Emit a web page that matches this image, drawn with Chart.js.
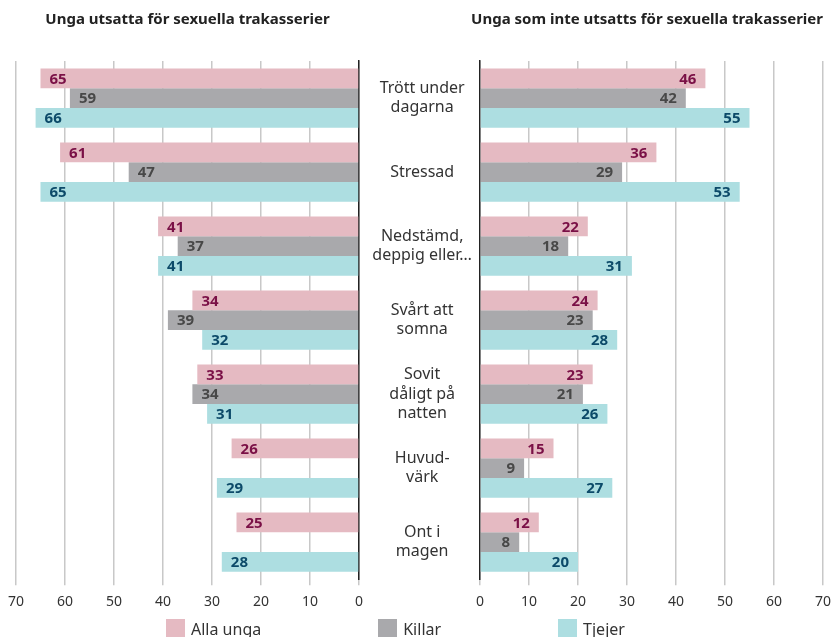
<!DOCTYPE html>
<html><head><meta charset="utf-8">
<script src="https://cdn.jsdelivr.net/npm/chart.js@4"></script>
<style>
body{margin:0;width:832px;height:637px;overflow:hidden;background:#fff;font-family:"Noto Sans";}
#lw{position:absolute;left:0;top:0;width:372px;height:620px}
#rw{position:absolute;left:360px;top:0;width:472px;height:620px}
#legend{position:absolute;left:166px;top:619px;display:flex;gap:117px;}
.item{display:flex;align-items:center;font-size:16px;color:#333;height:19px;font-family:"Noto Sans"}
.box{width:19px;height:19px;margin-right:6px}
</style>
</head><body>
<div id="lw"><canvas id="l"></canvas></div>
<div id="rw"><canvas id="r"></canvas></div>
<div id="legend"></div>
<script>
const categories = [["Trött under","dagarna"],["Stressad"],["Nedstämd,","deppig eller…"],["Svårt att","somna"],["Sovit","dåligt på","natten"],["Huvud-","värk"],["Ont i","magen"]];
const seriesNames = ["Alla unga","Killar","Tjejer"];
const leftAlla   = [65, 61, 41, 34, 33, 26, 25];
const leftKillar = [59, 47, 37, 39, 34, null, null];
const leftTjejer = [66, 65, 41, 32, 31, 29, 28];
const rightAlla   = [46, 36, 22, 24, 23, 15, 12];
const rightKillar = [42, 29, 18, 23, 21, 9, 8];
const rightTjejer = [55, 53, 31, 28, 26, 27, 20];
const xTicks = [0,10,20,30,40,50,60,70];
const leftTitle = "Unga utsatta för sexuella trakasserier";
const rightTitle = "Unga som inte utsatts för sexuella trakasserier";

const barColors = ["#e5bac2","#a9a9ac","#addee1"];
const labelColors = ["#7a1046","#484848","#0c4a69"];
const FONT = "Noto Sans";

const valueLabels = {
  id:'valueLabels',
  afterDatasetsDraw(chart, args, opts){
    const ctx = chart.ctx;
    ctx.save();
    ctx.font = "bold 15px '"+FONT+"'";
    ctx.textBaseline = 'middle';
    chart.data.datasets.forEach((ds,di)=>{
      const meta = chart.getDatasetMeta(di);
      meta.data.forEach((el,i)=>{
        const v = ds.data[i];
        if(v===null||v===undefined) return;
        ctx.fillStyle = labelColors[di];
        if(opts.side==='left'){
          ctx.textAlign='left';
          ctx.fillText(String(v), el.x+9, el.y+1);
        } else {
          ctx.textAlign='right';
          ctx.fillText(String(v), el.x-9, el.y+1);
        }
      });
    });
    ctx.restore();
  }
};

function makeDatasets(arrs){
  return arrs.map((d,i)=>({label:seriesNames[i],data:d,backgroundColor:barColors[i],borderWidth:0,categoryPercentage:0.8,barPercentage:1.0}));
}

function xScale(reverse){
  return {
    type:'linear', min:0, max:70, reverse:reverse,
    afterBuildTicks:(s)=>{ s.ticks = xTicks.map(v=>({value:v})); },
    afterFit:(s)=>{ if(!reverse){ s.paddingRight = 2; } },
    grid:{color:'#c8c8c8', lineWidth:1.5, drawTicks:true, tickLength:6},
    border:{display:false},
    ticks:{color:'#333', font:{family:FONT,size:14}, padding:8, maxRotation:0}
  };
}

function titleOpts(text, align){
  return {display:true, text:text, align:align, color:'#222', font:{family:FONT,size:15,weight:'bold'}, padding:{top:11,bottom:32}};
}

Chart.defaults.font.family = FONT;

new Chart(document.getElementById('l'),{
  type:'bar',
  data:{labels:categories, datasets:makeDatasets([leftAlla,leftKillar,leftTjejer])},
  options:{
    indexAxis:'y', responsive:true, maintainAspectRatio:false, animation:false,
    layout:{padding:{left:16,right:13,top:0,bottom:2}},
    plugins:{legend:{display:false}, tooltip:{enabled:false}, title:titleOpts(leftTitle,'center'), valueLabels:{side:'left'}},
    scales:{
      x:xScale(true),
      y:{position:'right', grid:{display:false}, border:{display:true,color:'#222',width:1.5}, ticks:{display:false}, afterFit:(a)=>{a.width=0;}}
    }
  },
  plugins:[valueLabels]
});

new Chart(document.getElementById('r'),{
  type:'bar',
  data:{labels:categories, datasets:makeDatasets([rightAlla,rightKillar,rightTjejer])},
  options:{
    indexAxis:'y', responsive:true, maintainAspectRatio:false, animation:false,
    layout:{padding:{left:0,right:9,top:0,bottom:2}},
    plugins:{legend:{display:false}, tooltip:{enabled:false}, title:titleOpts(rightTitle,'end'), valueLabels:{side:'right'}},
    scales:{
      x:xScale(false),
      y:{position:'left', grid:{display:false}, border:{display:true,color:'#222',width:1.5},
         ticks:{color:'#333', font:{family:FONT,size:16}, crossAlign:'center', padding:0},
         afterFit:(a)=>{a.width=120;}}
    }
  },
  plugins:[valueLabels]
});

const lg = document.getElementById('legend');
seriesNames.forEach((n,i)=>{
  const it = document.createElement('div'); it.className='item';
  const b = document.createElement('div'); b.className='box'; b.style.background=barColors[i];
  const t = document.createElement('span'); t.textContent=n;
  it.appendChild(b); it.appendChild(t); lg.appendChild(it);
});
</script>
</body></html>
